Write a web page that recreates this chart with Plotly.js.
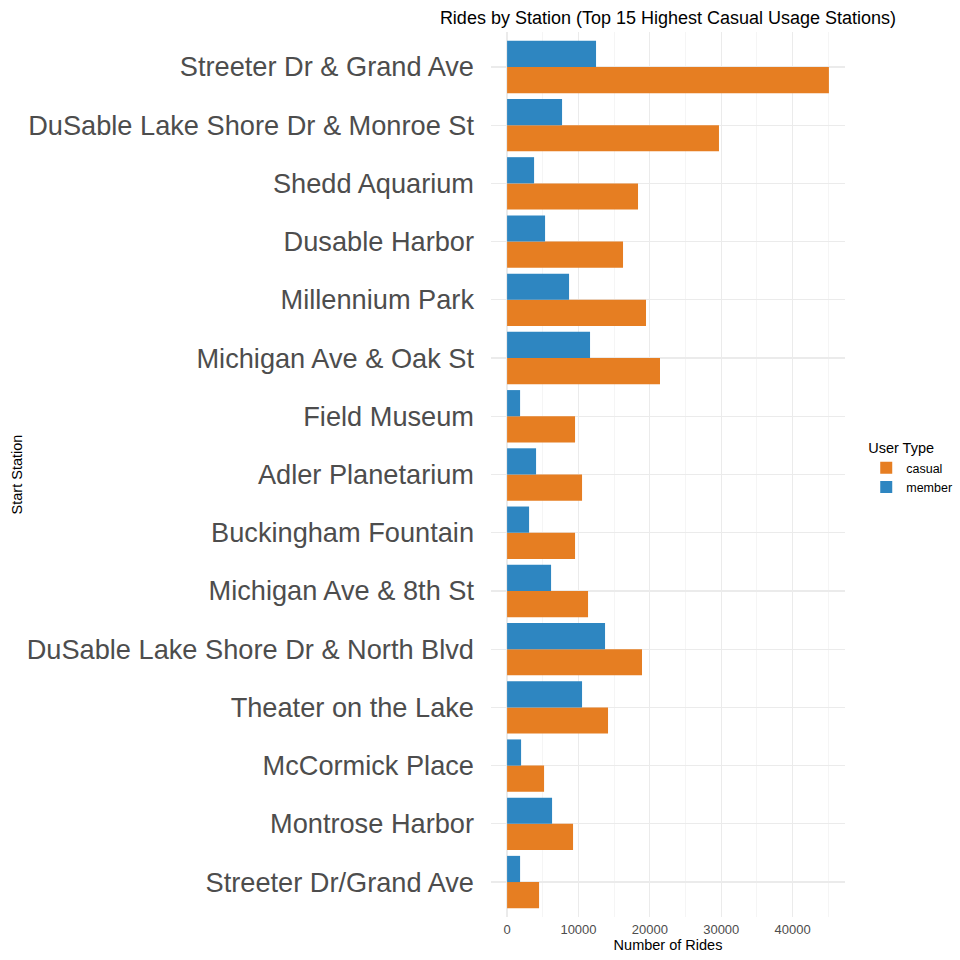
<!DOCTYPE html>
<html>
<head>
<meta charset="utf-8">
<script src="https://cdn.plot.ly/plotly-3.0.1.min.js"></script>
<style>html,body{margin:0;padding:0;background:#fff;}#chart{width:960px;height:960px;}</style>
</head>
<body>
<div id="chart"></div>
<script>
const stations = [
  "Streeter Dr & Grand Ave",
  "DuSable Lake Shore Dr & Monroe St",
  "Shedd Aquarium",
  "Dusable Harbor",
  "Millennium Park",
  "Michigan Ave & Oak St",
  "Field Museum",
  "Adler Planetarium",
  "Buckingham Fountain",
  "Michigan Ave & 8th St",
  "DuSable Lake Shore Dr & North Blvd",
  "Theater on the Lake",
  "McCormick Place",
  "Montrose Harbor",
  "Streeter Dr/Grand Ave"
];
const casualRides = [45080, 29680, 18340, 16240, 19460, 21420, 9520, 10500, 9520, 11340, 18900, 14140, 5180, 9240, 4480];
const memberRides = [12460, 7700, 3780, 5320, 8680, 11620, 1820, 4060, 3080, 6160, 13720, 10500, 1960, 6300, 1820];
const userTypes = ["casual", "member"];
const xTicks = [0, 10000, 20000, 30000, 40000];

const colors = {casual: "#E67E22", member: "#2E86C1"};
const font = "Liberation Sans, Arial, sans-serif";

const traces = [
  {type: "bar", orientation: "h", name: userTypes[0], y: stations, x: casualRides,
   marker: {color: colors.casual}, hoverinfo: "x+y"},
  {type: "bar", orientation: "h", name: userTypes[1], y: stations, x: memberRides,
   marker: {color: colors.member}, hoverinfo: "x+y"}
];

const layout = {
  width: 960, height: 960,
  margin: {l: 491, r: 115, t: 32, b: 43, autoexpand: false},
  paper_bgcolor: "#fff", plot_bgcolor: "#fff",
  font: {family: font, color: "#000"},
  barmode: "group", bargap: 0.1, bargroupgap: 0,
  title: {text: "Rides by Station (Top 15 Highest Casual Usage Stations)",
          font: {size: 18, color: "#000", family: font},
          x: 0.5, xref: "paper", xanchor: "center", y: 0.982, yanchor: "middle"},
  xaxis: {
    range: [-2254, 47334], tickvals: xTicks, ticktext: xTicks.map(String),
    showgrid: true, gridcolor: "#ebebeb", gridwidth: 1.2,
    minor: {dtick: 5000, tick0: 0, showgrid: true, gridcolor: "#f2f2f2", gridwidth: 0.8},
    zeroline: false, showline: false, ticks: "",
    ticklabelstandoff: 3,
    tickfont: {size: 13, color: "#4d4d4d"},
    title: {text: "Number of Rides", font: {size: 14.5, color: "#000"}, standoff: 3}
  },
  yaxis: {
    type: "category", categoryorder: "array", categoryarray: stations.slice().reverse(),
    range: [-0.6, 14.6],
    showgrid: true, gridcolor: "#ebebeb", gridwidth: 1.2,
    zeroline: false, showline: false, ticks: "",
    ticklabelstandoff: 16,
    tickfont: {size: 27.2, color: "#4d4d4d"},
    title: {text: "Start Station", font: {size: 14.5, color: "#000"}, standoff: 0}
  },
  legend: {
    x: 1.06, xanchor: "left", y: 0.507, yanchor: "middle",
    traceorder: "normal",
    title: {text: "User Type", font: {size: 14.5, color: "#000"}},
    font: {size: 12.5, color: "#000"}, itemwidth: 30
  },
  showlegend: true
};

Plotly.newPlot("chart", traces, layout, {staticPlot: true});
</script>
</body>
</html>
